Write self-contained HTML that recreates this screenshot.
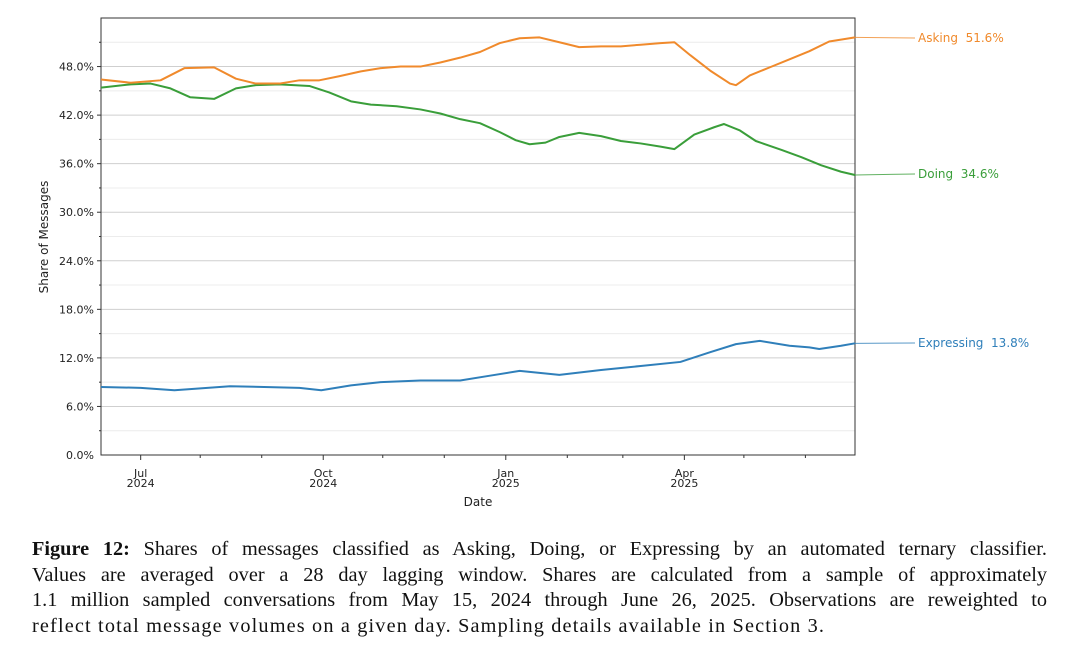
<!DOCTYPE html>
<html><head><meta charset="utf-8"><style>
body{margin:0;width:1080px;height:659px;background:#fff;overflow:hidden;position:relative}
svg{position:absolute;left:0;top:0}
.cap{position:absolute;left:32px;width:1015px;font-family:"Liberation Serif",serif;font-size:20.3px;color:#111;text-align:justify;text-align-last:justify;white-space:nowrap;line-height:25px}
.cap.last{text-align-last:left;letter-spacing:1.15px}
</style></head><body>
<svg id="chart" width="1080" height="659" font-family="DejaVu Sans, Liberation Sans, sans-serif"></svg>
<div class="cap" style="top:537px"><b>Figure 12:</b> Shares of messages classified as Asking, Doing, or Expressing by an automated ternary classifier.</div>
<div class="cap" style="top:563px">Values are averaged over a 28 day lagging window. Shares are calculated from a sample of approximately</div>
<div class="cap" style="top:588px">1.1 million sampled conversations from May 15, 2024 through June 26, 2025. Observations are reweighted to</div>
<div class="cap last" style="top:614px">reflect total message volumes on a given day. Sampling details available in Section 3.</div>
<script>
const askDays=[0,15,30,42,57,68,78,90,100,110,120,131,141,151,161,171,181,191,201,211,221,231,241,252,262,272,282,289,297,307,317,320,327,337,347,357,367,380];
const askVals=[46.4,46.0,46.3,47.8,47.9,46.5,45.9,45.9,46.3,46.3,46.8,47.4,47.8,48.0,48.0,48.5,49.1,49.8,50.9,51.5,51.6,51.0,50.4,50.5,50.5,50.7,50.9,51.0,49.4,47.5,45.9,45.7,46.9,47.9,48.9,49.9,51.1,51.6];
const doDays=[0,15,25,35,45,57,68,78,90,105,115,126,136,149,161,171,181,191,201,209,216,224,231,241,252,262,272,282,289,299,309,314,322,330,343,353,363,373,380];
const doVals=[45.4,45.8,45.9,45.3,44.2,44.0,45.3,45.7,45.8,45.6,44.8,43.7,43.3,43.1,42.7,42.2,41.5,41.0,39.9,38.9,38.4,38.6,39.3,39.8,39.4,38.8,38.5,38.1,37.8,39.6,40.5,40.9,40.1,38.8,37.7,36.8,35.8,35.0,34.6];
const exDays=[0,20,37,65,100,111,126,141,161,181,196,211,231,252,272,292,307,320,332,347,357,362,373,380];
const exVals=[8.4,8.3,8.0,8.5,8.3,8.0,8.6,9.0,9.2,9.2,9.8,10.4,9.9,10.5,11.0,11.5,12.7,13.7,14.1,13.5,13.3,13.1,13.5,13.8];
const yTicks=[0,6,12,18,24,30,36,42,48];
const monthTicks=[20,50,81,112,142,173,204,235,263,294,324,355];
const majorLabels={20:['Jul','2024'],112:['Oct','2024'],204:['Jan','2025'],294:['Apr','2025']};
const L=101,R=855,T=18,B=455,D=380;
const xs=d=>L+d*(R-L)/D, ys=v=>B-v*(B-T)/54;
const svg=document.getElementById('chart');const NS='http://www.w3.org/2000/svg';
function mk(t,a,p){const e=document.createElementNS(NS,t);for(const k in a)e.setAttribute(k,a[k]);(p||svg).appendChild(e);return e;}
for(let v=3;v<54;v+=3){const g=mk('line',{x1:L,x2:R,y1:ys(v),y2:ys(v),stroke:v%6?'#ececec':'#cfcfcf','stroke-width':1});


const t=mk('line',{x1:L-(v%6?2:4),x2:L,y1:ys(v),y2:ys(v),stroke:'#333'});

}
yTicks.forEach(v=>{const t=mk('text',{x:L-7,y:ys(v)+4,'text-anchor':'end','font-size':11,fill:'#222'});t.textContent=v.toFixed(1)+'%';

});
monthTicks.forEach(d=>{const m=majorLabels[d];const t=mk('line',{x1:xs(d),x2:xs(d),y1:B,y2:B+(m?5:3),stroke:'#333'});


if(m){m.forEach((s,i)=>{const tx=mk('text',{x:xs(d),y:B+22+i*10,'text-anchor':'middle','font-size':11,fill:'#222'});tx.textContent=s;

});}});
const fr=mk('rect',{x:L,y:T,width:R-L,height:B-T,fill:'none',stroke:'#333','stroke-width':1});


const xt=mk('text',{x:478,y:506,'text-anchor':'middle','font-size':12,fill:'#222'});xt.textContent='Date';


const yt=mk('text',{x:48,y:237,'text-anchor':'middle','font-size':12,fill:'#222',transform:'rotate(-90 48 237)'});yt.textContent='Share of Messages';


function series(days,vals,col,name,label,ly){
const p=mk('polyline',{points:days.map((d,i)=>xs(d)+','+ys(vals[i])).join(' '),fill:'none',stroke:col,'stroke-width':2,'stroke-linejoin':'round'});


const lv=vals[vals.length-1],ld=days[days.length-1];
const c=mk('line',{x1:xs(ld),y1:ys(lv),x2:915,y2:ly,stroke:col,'stroke-width':1,opacity:0.8});


const t=mk('text',{x:918,y:ly+4,'font-size':12,fill:col});t.textContent=label+'\u00a0\u00a0'+lv.toFixed(1)+'%';

}
series(exDays,exVals,'#2f7fba','expressing','Expressing',343);
series(doDays,doVals,'#3a9e3a','doing','Doing',174);
series(askDays,askVals,'#f08a2c','asking','Asking',38);
</script>
</body></html>
